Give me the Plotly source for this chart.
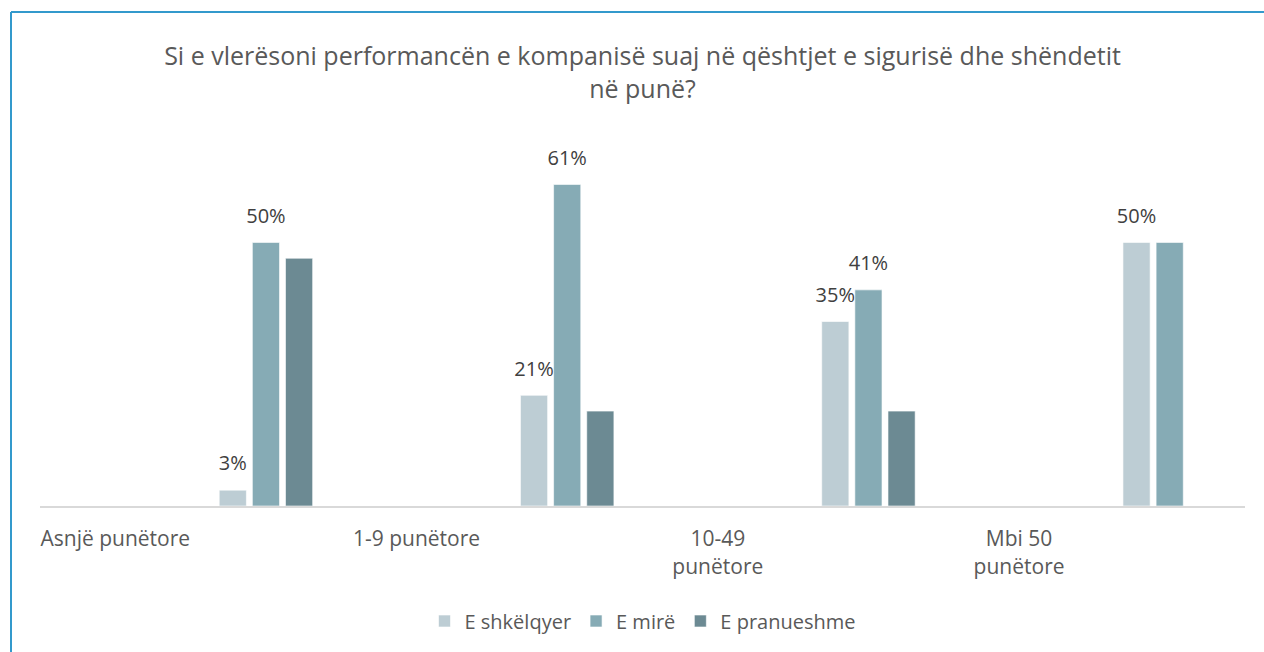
import plotly.graph_objects as go

# Survey: workplace safety & health performance rating by company size
categories = ["Asnjë punëtore", "1-9 punëtore", "10-49<br>punëtore", "Mbi 50<br>punëtore"]
series_names = ["E shkëlqyer", "E mirë", "E pranueshme"]
shkelqyer = [3, 21, 35, 50]
mire = [50, 61, 41, 50]
pranueshme = [47, 18, 18, 0]
# data labels shown on the chart (blank = not labelled)
shkelqyer_text = ["3%", "21%", "35%", "50%"]
mire_text = ["50%", "61%", "41%", ""]
pranueshme_text = ["", "", "", ""]

colors = ["#BDCDD4", "#86ABB5", "#6C8A93"]

# each category occupies one unit; labels sit in the left half, bars in the right half
idx = list(range(len(categories)))
bar_x = [i + 0.75 for i in idx]
label_x = [i + 0.25 for i in idx]

fig = go.Figure()
for k, (name, vals, col) in enumerate(zip(series_names,
                                          [shkelqyer, mire, pranueshme],
                                          colors)):
    fig.add_trace(go.Bar(
        x=bar_x, y=vals, name=name,
        offsetgroup=str(k), alignmentgroup="a",
        marker=dict(color=col, line=dict(color="rgba(255,255,255,0.6)", width=1)),
        hoverinfo="skip",
    ))

# value labels, grouped the same way as the bars and lifted by an invisible marker
for k, (vals, txt) in enumerate(zip([shkelqyer, mire, pranueshme],
                                    [shkelqyer_text, mire_text, pranueshme_text])):
    fig.add_trace(go.Scatter(
        x=bar_x, y=vals, text=txt, mode="markers+text",
        offsetgroup=str(k), alignmentgroup="a",
        marker=dict(size=22, opacity=0),
        textposition="top center", cliponaxis=False,
        textfont=dict(size=20, color="#404040"),
        showlegend=False, hoverinfo="skip",
    ))

fig.update_layout(
    width=1264, height=652,
    paper_bgcolor="white", plot_bgcolor="white",
    font=dict(family="Open Sans, sans-serif", color="#595959"),
    barmode="group", bargap=0.67, bargroupgap=0.18,
    scattermode="group", scattergap=0.67,
    margin=dict(l=40, r=19, t=137, b=146),
    title=dict(
        text="Si e vlerësoni performancën e kompanisë suaj në qështjet e sigurisë dhe shëndetit<br>në punë?",
        x=0.5, xanchor="center", xref="paper",
        y=1 - 65 / 652, yanchor="middle",
        font=dict(size=25, color="#595959"),
    ),
    xaxis=dict(
        range=[0, len(categories)],
        tickvals=label_x, ticktext=categories,
        showgrid=False, zeroline=False,
        showline=True, linecolor="#D9D9D9", linewidth=2,
        ticks="", ticklabelstandoff=13,
        tickfont=dict(size=21, color="#595959"),
    ),
    yaxis=dict(range=[0, 70], visible=False, showgrid=False),
    legend=dict(
        orientation="h", x=0.5, xanchor="center",
        y=(506 - 621) / 369, yanchor="middle",
        font=dict(size=20, color="#595959"),
        traceorder="normal", itemwidth=30,
    ),
)

# chart frame
fig.add_shape(type="line", xref="paper", yref="paper",
              x0=(11 - 40) / 1205, x1=1.05, y0=(506 - 12) / 369, y1=(506 - 12) / 369,
              line=dict(color="#3399CC", width=2))
fig.add_shape(type="line", xref="paper", yref="paper",
              x0=(11 - 40) / 1205, x1=(11 - 40) / 1205, y0=(506 - 12) / 369, y1=-0.5,
              line=dict(color="#3399CC", width=2))

fig.write_html("out.html")
